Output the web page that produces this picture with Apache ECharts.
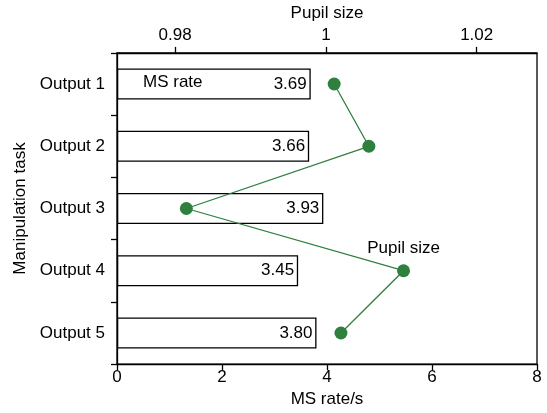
<!DOCTYPE html>
<html>
<head>
<meta charset="utf-8">
<script src="https://cdn.jsdelivr.net/npm/echarts@6/dist/echarts.min.js"></script>
<style>
  html, body { margin: 0; padding: 0; background: #fff; }
  #main { width: 547px; height: 413px; }
</style>
</head>
<body>
<div id="main"></div>
<script>
let tasks = ['Output 1', 'Output 2', 'Output 3', 'Output 4', 'Output 5'];
let msRate = [3.69, 3.66, 3.93, 3.45, 3.80];
let pupilSize = [1.0011, 1.0057, 0.9815, 1.0103, 1.0020];
let pupilTicks = [0.98, 1, 1.02];

let font = 'Liberation Sans, Arial, Helvetica, sans-serif';
let green = '#2f7f3f';

let myChart = echarts.init(document.getElementById('main'));

let option = {
  backgroundColor: '#fff',
  animation: false,
  textStyle: { fontFamily: font, color: '#000' },
  grid: {
    left: 117, right: 10, top: 52, bottom: 46,
    show: true, borderColor: '#000', borderWidth: 1.3
  },
  xAxis: [
    {
      type: 'value',
      position: 'bottom',
      min: 0, max: 8, interval: 2,
      name: 'MS rate/s',
      nameLocation: 'middle',
      nameGap: 25,
      nameTextStyle: { fontSize: 17, color: '#000' },
      axisLine: { show: true, lineStyle: { color: '#000', width: 1.3 } },
      axisTick: { show: true, length: 6, lineStyle: { color: '#000', width: 1.3 } },
      axisLabel: { fontSize: 17, color: '#000', margin: 5 },
      splitLine: { show: false }
    },
    {
      type: 'value',
      position: 'top',
      min: 0.9723, max: 1.028,
      name: 'Pupil size',
      nameLocation: 'middle',
      nameGap: 24,
      nameTextStyle: { fontSize: 17, color: '#000' },
      axisLine: { show: true, lineStyle: { color: '#000', width: 1.3 } },
      axisTick: { show: true, length: 6, customValues: pupilTicks, lineStyle: { color: '#000', width: 1.3 } },
      axisLabel: {
        fontSize: 17, color: '#000', margin: 9,
        customValues: pupilTicks,
        formatter: function (v) { return String(Math.round(v * 100) / 100); }
      },
      splitLine: { show: false }
    }
  ],
  yAxis: {
    type: 'category',
    data: tasks,
    inverse: true,
    name: 'Manipulation task',
    nameLocation: 'middle',
    nameGap: 86,
    nameTextStyle: { fontSize: 17, color: '#000' },
    axisLine: { show: true, lineStyle: { color: '#000', width: 1.3 } },
    axisTick: { show: true, length: 6, lineStyle: { color: '#000', width: 1.3 } },
    axisLabel: { fontSize: 17, color: '#000', margin: 12 },
    splitLine: { show: false }
  },
  series: [
    {
      name: 'MS rate',
      type: 'bar',
      xAxisIndex: 0,
      barWidth: '50%',
      itemStyle: { color: '#fff', borderColor: '#000', borderWidth: 1.3 },
      label: {
        show: true,
        position: 'insideRight',
        distance: 4,
        fontSize: 17,
        color: '#000',
        formatter: function (p) { return p.value.toFixed(2); }
      },
      data: msRate
    },
    {
      name: 'Pupil size',
      type: 'line',
      xAxisIndex: 1,
      symbol: 'circle',
      symbolSize: 13,
      lineStyle: { color: green, width: 1.3 },
      itemStyle: { color: green },
      label: { show: false },
      data: pupilSize.map(function (v, i) {
        let item = { value: [v, tasks[i]] };
        if (i === 3) {
          item.label = {
            show: true, position: 'top', distance: 7,
            formatter: 'Pupil size', fontSize: 17, color: '#000'
          };
        }
        return item;
      })
    }
  ],
  graphic: [
    {
      type: 'text',
      left: 143,
      top: 74,
      z: 100,
      style: { text: 'MS rate', fontSize: 17, fontFamily: font, fill: '#000' }
    }
  ]
};

myChart.setOption(option);

window.addEventListener('resize', function () {
  myChart.resize();
}, false)
</script>
</body>
</html>
